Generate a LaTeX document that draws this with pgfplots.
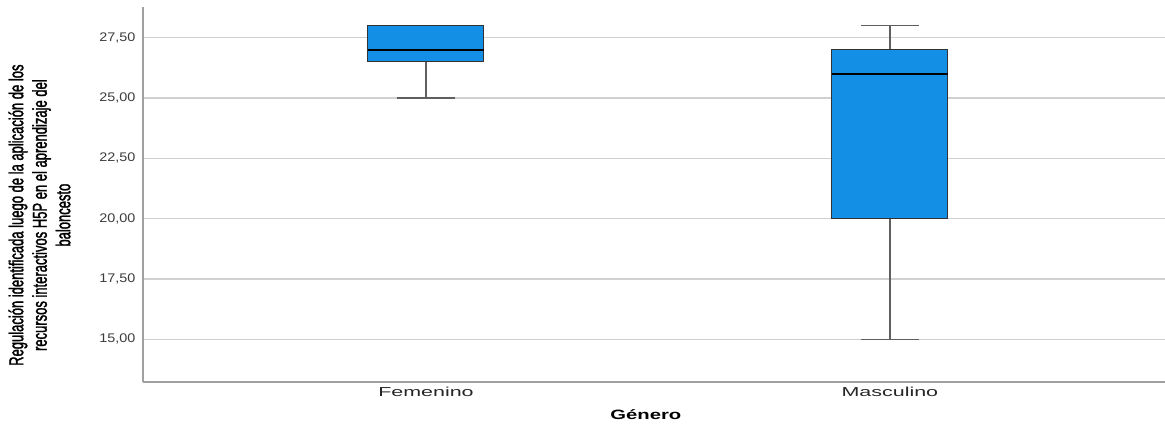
\documentclass[border=0pt]{standalone}
\usepackage{pgfplots}
\pgfplotsset{compat=1.18}
\usepackage{fontspec}
\setmainfont{Liberation Sans}
\newfontfamily\labfont[FakeBold=2]{Liberation Sans}
\usepackage{graphicx}

\definecolor{boxblue}{RGB}{20,143,230}
\definecolor{gridgray}{RGB}{208,208,208}
\definecolor{axisgray}{RGB}{160,160,160}
\definecolor{whiskgray}{RGB}{95,95,95}
\definecolor{ticktext}{RGB}{60,60,60}

% Five-number summaries: lower whisker, Q1, median, Q3, upper whisker
% Femenino (position 1): 25, 26.5, 27, 28, 28
% Masculino (position 2): 15, 20, 26, 27, 28

\pgfplotsset{
  whisk/.style={draw=whiskgray, line width=1.4pt, mark=none},
  boxst/.style={draw=black!80, line width=1pt, fill=boxblue, mark=none},
  medst/.style={draw=black, line width=2pt, mark=none},
}

\begin{document}
\begin{tikzpicture}
\begin{axis}[
  scale only axis,
  width=1022pt, height=375pt,
  xmin=0.39, xmax=2.593,
  ymin=13.23, ymax=28.77,
  axis x line*=bottom,
  axis y line*=left,
  axis line style={draw=axisgray, line width=1.3pt},
  major tick length=0pt,
  xtick={1,2},
  xticklabels={\scalebox{1.65}[1]{Femenino},\scalebox{1.65}[1]{Masculino}},
  ytick={15,17.5,20,22.5,25,27.5},
  yticklabel={\scalebox{1.15}[1]{\pgfmathprintnumber[fixed,fixed zerofill,precision=2,use comma,assume math mode=true]{\tick}}},
  yticklabel style={font=\fontsize{12.5}{14}\selectfont, text=ticktext, xshift=-4pt},
  xticklabel style={font=\fontsize{13}{15}\selectfont, text=black!85, yshift=-2pt},
  ymajorgrids,
  grid style={draw=gridgray, line width=1.2pt},
  xlabel={\scalebox{1.5}[1]{\bfseries Género}},
  xlabel style={font=\fontsize{13.5}{15}\selectfont, at={(axis description cs:0.492,0)}, anchor=north, yshift=-24pt},
  ylabel={\scalebox{0.65}[1]{\begin{tabular}{@{}c@{}}Regulación identificada luego de la aplicación de los\\recursos interactivos H5P en el aprendizaje del\\baloncesto\end{tabular}}},
  ylabel style={font=\labfont\fontsize{20}{23.5}\selectfont, text=black, at={(axis description cs:-0.0988,0.445)}, anchor=center},
  clip=false,
]
% ---- Femenino ----
\addplot[whisk] coordinates {(1,25) (1,26.5)};
\addplot[whisk] coordinates {(0.9375,25) (1.0625,25)};
\addplot[boxst] coordinates {(0.875,26.5) (1.125,26.5) (1.125,28) (0.875,28) (0.875,26.5)} -- cycle;
\addplot[medst] coordinates {(0.875,27) (1.125,27)};

% ---- Masculino ----
\addplot[whisk] coordinates {(2,15) (2,20)};
\addplot[whisk] coordinates {(1.9375,15) (2.0625,15)};
\addplot[whisk] coordinates {(2,27) (2,28)};
\addplot[whisk] coordinates {(1.9375,28) (2.0625,28)};
\addplot[boxst] coordinates {(1.875,20) (2.125,20) (2.125,27) (1.875,27) (1.875,20)} -- cycle;
\addplot[medst] coordinates {(1.875,26) (2.125,26)};

\coordinate (sw) at (rel axis cs:0,0);
\end{axis}
\pgfresetboundingbox
\path[use as bounding box] (sw) ++(-143pt,-50pt) rectangle ++(1165pt,432pt);
\end{tikzpicture}
\end{document}
